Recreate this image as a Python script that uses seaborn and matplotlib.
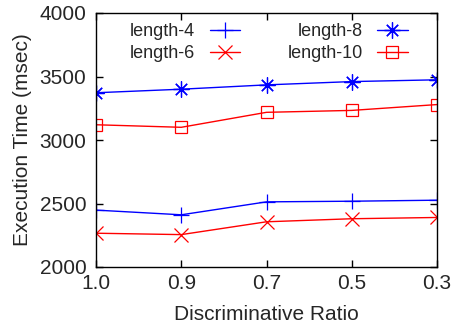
import matplotlib
matplotlib.use("Agg")
import matplotlib.pyplot as plt
import seaborn as sns
import pandas as pd

ratios = ["1.0", "0.9", "0.7", "0.5", "0.3"]
length_4 = [2448, 2411, 2513, 2518, 2526]
length_6 = [2266, 2255, 2356, 2380, 2390]
length_8 = [3372, 3400, 3434, 3460, 3474]
length_10 = [3120, 3100, 3218, 3233, 3279]

sns.set_style("ticks")
plt.rcParams["font.family"] = ["Liberation Sans", "DejaVu Sans"]
plt.rcParams["xtick.direction"] = "in"
plt.rcParams["ytick.direction"] = "in"

fig = plt.figure(figsize=(4.54, 3.29), dpi=100)
ax = fig.add_axes([96 / 454, 1 - 267 / 329, (437 - 96) / 454, (267 - 13) / 329])

series = [
    ("length-4", length_4, "#0000ff", "+", 11),
    ("length-6", length_6, "#ff0000", "x", 9.5),
    ("length-8", length_8, "#0000ff", (8, 2, 0), 11.5),
    ("length-10", length_10, "#ff0000", "s", 9),
]

for name, vals, color, marker, ms in series:
    df = pd.DataFrame({"pos": range(len(ratios)), "time": vals})
    sns.lineplot(data=df, x="pos", y="time", ax=ax, color=color, lw=1.0,
                 marker=marker, markersize=ms, markeredgecolor=color,
                 markerfacecolor="none", markeredgewidth=0.9, label=name)

ax.set_xlim(0, len(ratios) - 1)
ax.set_ylim(2000, 4000)
ax.set_xticks(range(len(ratios)))
ax.set_xticklabels(ratios)
ax.set_yticks([2000, 2500, 3000, 3500, 4000])
ax.tick_params(axis="both", which="both", top=True, right=True, length=5,
               width=1.0, labelsize=15, color="black")
ax.tick_params(axis="x", pad=5)
ax.tick_params(axis="y", pad=7)
for sp in ax.spines.values():
    sp.set_visible(True)
    sp.set_linewidth(1.0)
    sp.set_color("black")

ax.set_xlabel("Discriminative Ratio", fontsize=15, labelpad=9)
ax.set_ylabel("Execution Time (msec)", fontsize=15, labelpad=5)

ax.legend(ncol=2, frameon=False, markerfirst=False, fontsize=13,
          loc="upper left", bbox_to_anchor=(130 / 454, 1 - 23 / 329),
          bbox_transform=fig.transFigure, borderpad=0, borderaxespad=0,
          handlelength=1.7, handletextpad=0.8, columnspacing=2.6,
          labelspacing=0.3)

fig.savefig("out.png", dpi=100)
